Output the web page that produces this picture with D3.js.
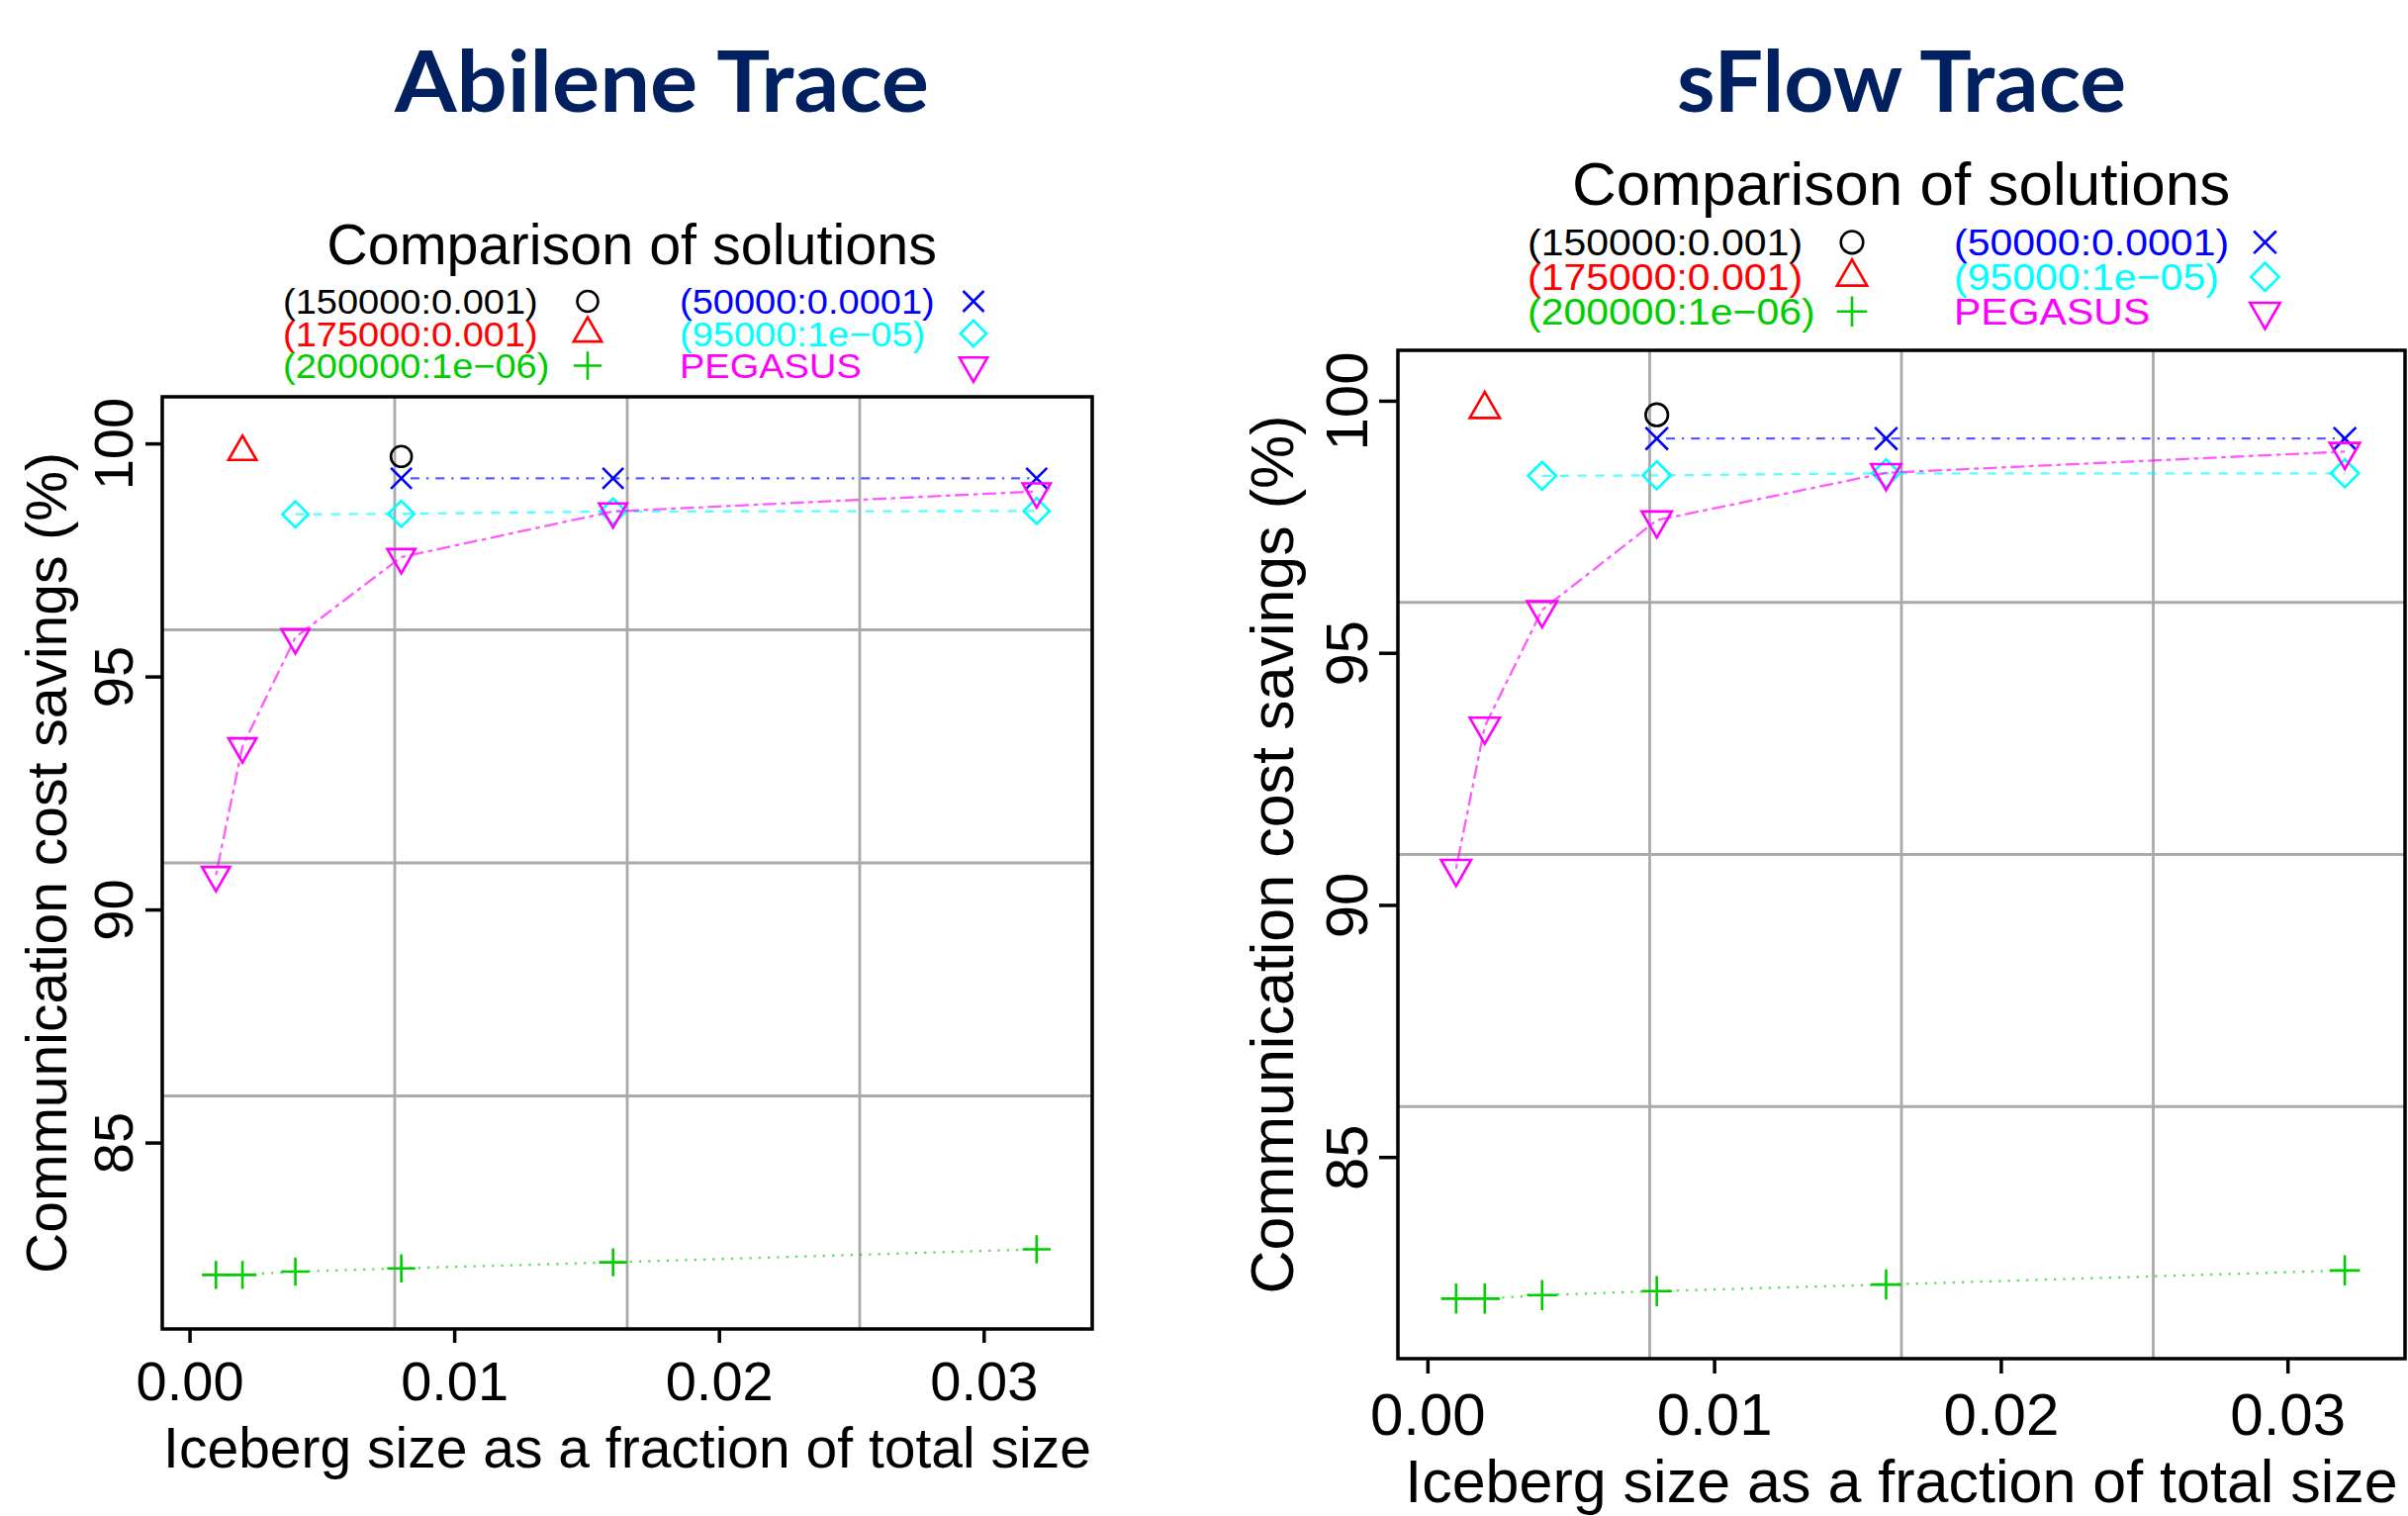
<!DOCTYPE html>
<html>
<head>
<meta charset="utf-8">
<script src="https://cdn.jsdelivr.net/npm/d3@7"></script>
<style>
  body { margin: 0; background: #fff; }
  svg { display: block; }
</style>
</head>
<body>
<div id="chart"></div>
<script>
'use strict'

// x values shared by every series (iceberg size as fraction of total size)
const xValues = [0.001, 0.002, 0.004, 0.008, 0.016, 0.032]

const seriesLabels = ['(150000:0.001)', '(175000:0.001)', '(200000:1e\u221206)',
  '(50000:0.0001)', '(95000:1e\u221205)', 'PEGASUS']

// Abilene trace, communication cost savings (%)
const abilene150000 = [null, null, null, 99.72, null, null]
const abilene175000 = [null, 99.82, null, null, null, null]
const abilene200000 = [82.16, 82.16, 82.23, 82.30, 82.43, 82.71]
const abilene50000 = [null, null, null, 99.25, 99.25, 99.25]
const abilene95000 = [null, null, 98.48, 98.49, 98.54, 98.55]
const abilenePegasus = [90.74, 93.50, 95.84, 97.56, 98.54, 98.97]

// sFlow trace, communication cost savings (%)
const sflow150000 = [null, null, null, 99.72, null, null]
const sflow175000 = [null, 99.83, null, null, null, null]
const sflow200000 = [82.19, 82.19, 82.26, 82.34, 82.47, 82.75]
const sflow50000 = [null, null, null, 99.25, 99.25, 99.25]
const sflow95000 = [null, null, 98.51, 98.52, 98.56, 98.56]
const sflowPegasus = [90.72, 93.54, 95.85, 97.63, 98.57, 98.99]

const xTicks = [0, 0.01, 0.02, 0.03]
const yTicks = [85, 90, 95, 100]
const xDomain = [-0.00103, 0.0341]
const yDomain = [81, 101]

// R style pch shapes, size = base radius
const pch = {
  circle: { draw (c, s) { c.moveTo(s, 0); c.arc(0, 0, s, 0, 2 * Math.PI) } },
  triUp: { draw (c, s) {
    c.moveTo(0, -1.555 * s); c.lineTo(1.3468 * s, 0.7776 * s); c.lineTo(-1.3468 * s, 0.7776 * s); c.closePath()
  } },
  plus: { draw (c, s) {
    const r = 1.35 * s
    c.moveTo(-r, 0); c.lineTo(r, 0); c.moveTo(0, -r); c.lineTo(0, r)
  } },
  times: { draw (c, s) {
    c.moveTo(-s, -s); c.lineTo(s, s); c.moveTo(s, -s); c.lineTo(-s, s)
  } },
  diamond: { draw (c, s) {
    const r = 1.25 * s
    c.moveTo(0, -r); c.lineTo(r, 0); c.lineTo(0, r); c.lineTo(-r, 0); c.closePath()
  } },
  triDown: { draw (c, s) {
    c.moveTo(0, 1.555 * s); c.lineTo(1.3468 * s, -0.7776 * s); c.lineTo(-1.3468 * s, -0.7776 * s); c.closePath()
  } }
}

const seriesStyle = [
  { color: '#000000', shape: pch.circle, dash: null },
  { color: '#ff0000', shape: pch.triUp, dash: null },
  { color: '#00cd00', shape: pch.plus, dash: [2.3, 7] },
  { color: '#0000ff', shape: pch.times, dash: [2.3, 7, 9, 7] },
  { color: '#00ffff', shape: pch.diamond, dash: [9, 9] },
  { color: '#ff00ff', shape: pch.triDown, dash: [4.6, 4.6, 14, 4.6] }
]

const panels = [
  {
    title: 'Abilene Trace', titleX: 669, titleW: 540, subX: 638.6,
    values: [abilene150000, abilene175000, abilene200000, abilene50000, abilene95000, abilenePegasus],
    left: 164, right: 1104, top: 401, bottom: 1343,
    fTick: 56, fLab: 57, fSub: 57.5, fLeg: 38, sym: 10.5,
    yTickOff: 30, yLabOff: 97, xTickOff: 72, xLabOff: 140, tickY: 17, tickX: 14,
    subOff: -134.3, legRows: [-84, -51.5, -19], legX: [122, 523], legSym: [430, 820]
  },
  {
    title: 'sFlow Trace', titleX: 1922, titleW: 454, subX: 1921.6,
    values: [sflow150000, sflow175000, sflow200000, sflow50000, sflow95000, sflowPegasus],
    left: 1413, right: 2431, top: 354, bottom: 1373,
    fTick: 60, fLab: 61, fSub: 62, fLeg: 41, sym: 11.3,
    yTickOff: 31, yLabOff: 106, xTickOff: 77, xLabOff: 145, tickY: 19, tickX: 15,
    subOff: -147.3, legRows: [-95.7, -60.7, -25.7], legX: [131, 562], legSym: [459, 876.5]
  }
]

const svg = d3.select('#chart')
  .append('svg')
    .attr('width', 2434)
    .attr('height', 1532)
    .style('font-family', '"Liberation Sans", Arial, sans-serif')

svg.append('rect').attr('width', 2434).attr('height', 1532).attr('fill', '#fff')

panels.forEach(p => {
  const g = svg.append('g')
  const x = d3.scaleLinear().domain(xDomain).range([p.left, p.right])
  const y = d3.scaleLinear().domain(yDomain).range([p.bottom, p.top])

  // big slide title
  g.append('text')
    .attr('x', p.titleX)
    .attr('y', 113)
    .attr('text-anchor', 'middle')
    .attr('font-family', 'Lato, "Open Sans", sans-serif')
    .attr('font-weight', 700)
    .attr('font-size', 86)
    .attr('textLength', p.titleW)
    .attr('lengthAdjust', 'spacingAndGlyphs')
    .attr('fill', '#002060')
    .text(p.title)

  // grid, 4 equal parts like R grid()
  const gx = d3.range(1, 4).map(k => xDomain[0] + k * (xDomain[1] - xDomain[0]) / 4)
  const gy = d3.range(1, 4).map(k => yDomain[0] + k * (yDomain[1] - yDomain[0]) / 4)
  g.selectAll('.vgrid').data(gx).join('line')
    .attr('x1', d => x(d)).attr('x2', d => x(d))
    .attr('y1', p.top).attr('y2', p.bottom)
    .attr('stroke', '#aaaaaa').attr('stroke-width', 2.8)
  g.selectAll('.hgrid').data(gy).join('line')
    .attr('y1', d => y(d)).attr('y2', d => y(d))
    .attr('x1', p.left).attr('x2', p.right)
    .attr('stroke', '#aaaaaa').attr('stroke-width', 2.8)

  // series
  p.values.forEach((vals, i) => {
    const st = seriesStyle[i]
    const pts = xValues.map((xv, j) => ({ x: xv, y: vals[j] })).filter(d => d.y != null)
    if (pts.length > 1) {
      g.append('path')
        .datum(pts)
        .attr('d', d3.line().x(d => x(d.x)).y(d => y(d.y)))
        .attr('fill', 'none')
        .attr('stroke', st.color)
        .attr('stroke-opacity', 0.65)
        .attr('stroke-width', 2.3)
        .attr('stroke-dasharray', st.dash ? st.dash.join(',') : null)
    }
    g.selectAll(null).data(pts).join('path')
      .attr('transform', d => `translate(${x(d.x)},${y(d.y)})`)
      .attr('d', d3.symbol().type(st.shape).size(p.sym))
      .attr('fill', 'none')
      .attr('stroke', st.color)
      .attr('stroke-width', 2.6)
  })

  // box
  g.append('rect')
    .attr('x', p.left).attr('y', p.top)
    .attr('width', p.right - p.left).attr('height', p.bottom - p.top)
    .attr('fill', 'none').attr('stroke', '#000').attr('stroke-width', 3.5)

  // axes
  const xAxis = d3.axisBottom(x).tickValues(xTicks).tickSize(p.tickX).tickFormat(d3.format('.2f'))
  const xg = g.append('g').attr('transform', `translate(0,${p.bottom})`).call(xAxis)
  xg.select('.domain').remove()
  xg.selectAll('line').attr('stroke', '#000').attr('stroke-width', 3.5)
  xg.selectAll('text')
    .attr('dy', null).attr('y', p.xTickOff)
    .attr('fill', '#000').attr('font-size', p.fTick)
    .attr('font-family', '"Liberation Sans", Arial, sans-serif')

  const yAxis = d3.axisLeft(y).tickValues(yTicks).tickSize(p.tickY)
  const yg = g.append('g').attr('transform', `translate(${p.left},0)`).call(yAxis)
  yg.select('.domain').remove()
  yg.selectAll('line').attr('stroke', '#000').attr('stroke-width', 3.5)
  yg.selectAll('text')
    .attr('dy', null).attr('x', 0).attr('y', -p.yTickOff)
    .attr('transform', 'rotate(-90)')
    .attr('text-anchor', 'middle')
    .attr('fill', '#000').attr('font-size', p.fTick)
    .attr('font-family', '"Liberation Sans", Arial, sans-serif')

  // axis titles
  g.append('text')
    .attr('x', (p.left + p.right) / 2)
    .attr('y', p.bottom + p.xLabOff)
    .attr('text-anchor', 'middle')
    .attr('font-size', p.fLab)
    .text('Iceberg size as a fraction of total size')

  g.append('text')
    .attr('transform', `translate(${p.left - p.yLabOff},${(p.top + p.bottom) / 2}) rotate(-90)`)
    .attr('text-anchor', 'middle')
    .attr('font-size', p.fLab)
    .text('Communication cost savings (%)')

  // plot title
  g.append('text')
    .attr('x', p.subX)
    .attr('y', p.top + p.subOff)
    .attr('text-anchor', 'middle')
    .attr('font-size', p.fSub)
    .text('Comparison of solutions')

  // legend, two columns of three; glyphs a bit flatter than wide, as in the source
  seriesLabels.forEach((lab, i) => {
    const col = Math.floor(i / 3)
    const row = i % 3
    const st = seriesStyle[i]
    const by = p.top + p.legRows[row]
    const t = g.append('text')
      .attr('x', p.left + p.legX[col])
      .attr('y', by)
      .attr('font-size', p.fLeg)
      .attr('fill', st.color)
      .text(lab)
    const w = t.node().getComputedTextLength()
    t.attr('font-size', p.fLeg * 0.92)
      .attr('textLength', w)
      .attr('lengthAdjust', 'spacingAndGlyphs')
    g.append('path')
      .attr('transform', `translate(${p.left + p.legSym[col]},${by - 0.716 * p.fLeg * 0.92 / 2})`)
      .attr('d', d3.symbol().type(st.shape).size(p.sym))
      .attr('fill', 'none')
      .attr('stroke', st.color)
      .attr('stroke-width', 2.6)
  })
})
</script>
</body>
</html>
